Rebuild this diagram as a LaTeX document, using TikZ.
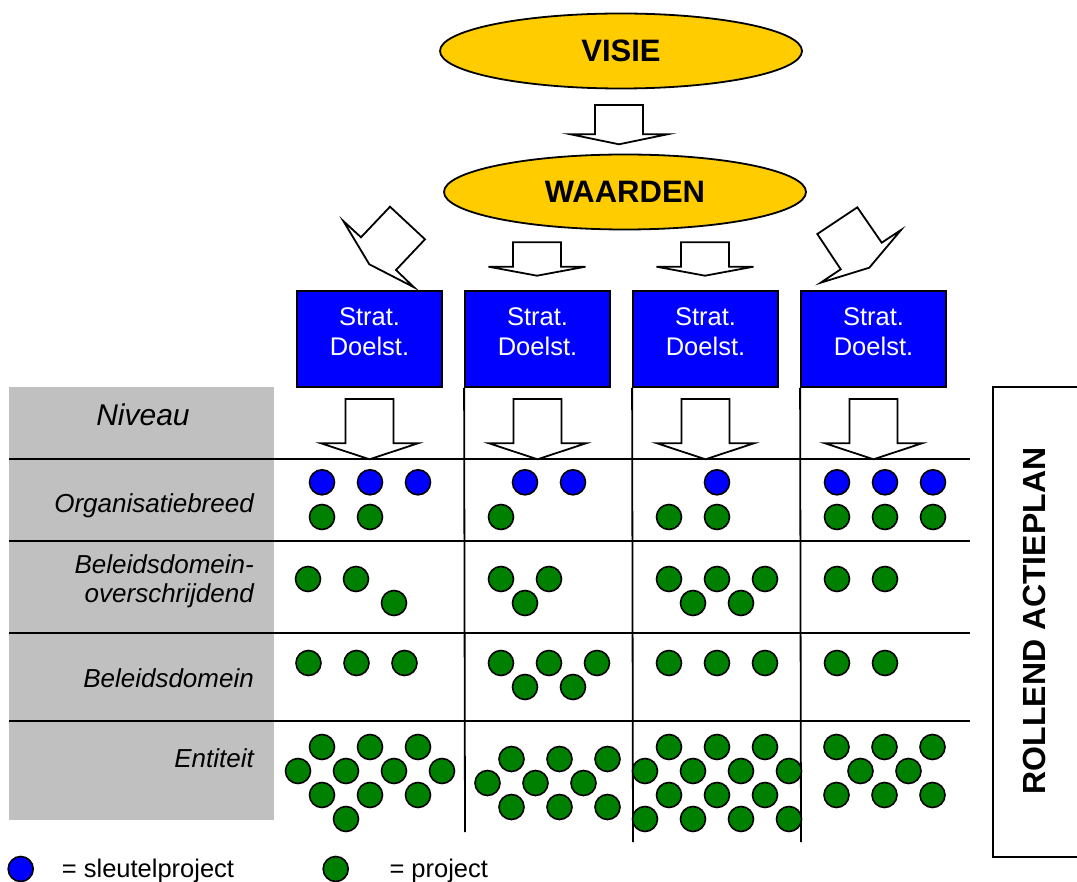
\documentclass[tikz,border=0pt]{standalone}
\usepackage{fontspec}
\setmainfont{Liberation Sans}
\usetikzlibrary{shapes.geometric}
\definecolor{visieyellow}{RGB}{255,204,0}
\definecolor{keyblue}{RGB}{0,0,255}
\definecolor{projgreen}{RGB}{0,128,0}
\definecolor{levelgray}{RGB}{192,192,192}
% block arrow pointing down: #1 centre x, #2 top y, #3 shoulder y, #4 tip y
\newcommand\blockdown[4]{%
  \draw[blockarrow] (#1-24,#2) -- (#1+24,#2) -- (#1+24,#3) -- (#1+48.5,#3)
    -- (#1,#4) -- (#1-48.5,#3) -- (#1-24,#3) -- cycle;}
\begin{document}
\begin{tikzpicture}[x=1pt,y=-1pt,
  oval/.style={ellipse,draw,line width=1.8pt,fill=visieyellow,minimum width=362pt,
    minimum height=75pt,inner sep=0pt,font=\fontsize{31}{36}\selectfont\bfseries},
  stratbox/.style={rectangle,draw,line width=1.8pt,fill=keyblue,minimum width=145pt,
    minimum height=96pt,inner sep=0pt},
  strattext/.style={text=white,align=center,inner sep=0pt,
    font=\fontsize{25.5}{30}\selectfont},
  blockarrow/.style={draw,fill=white,line width=1.8pt,line join=miter},
  gridline/.style={line width=1.8pt},
  rowlabel/.style={anchor=base east,inner sep=0pt,align=right,
    font=\fontsize{26}{29}\selectfont\itshape},
  keyproj/.style={circle,draw,line width=1.6pt,fill=keyblue,minimum size=25pt,inner sep=0pt},
  proj/.style={circle,draw,line width=1.6pt,fill=projgreen,minimum size=25pt,inner sep=0pt},
  legendtext/.style={anchor=base west,inner sep=0pt,font=\fontsize{25.5}{30}\selectfont}]
\useasboundingbox (0,0) rectangle (1077,882);

% top ellipses
\node[oval] (visie) at (621,51) {VISIE};
\node[oval] (waarden) at (625,192) {WAARDEN};
\blockdown{619}{105}{134.3}{144.3}

% arrows from WAARDEN
\draw[blockarrow] (343.3,221) -- (361,237.3) -- (390,206.7) -- (425,239.3)
  -- (396,270) -- (414,287.3) -- (369.3,264.3) -- cycle;
\blockdown{537}{242.3}{266.7}{275.7}
\blockdown{705}{242.3}{266.7}{275.7}
\draw[blockarrow] (817.3,234) -- (857.3,207.3) -- (881.7,242.7) -- (901,230)
  -- (869.3,267.7) -- (820.7,282.7) -- (840.7,269.3) -- cycle;

% strategic objectives
\foreach \i/\cx in {1/369.5,2/537.5,3/705.5,4/873.5}{
  \node[stratbox] (s\i) at (\cx,339) {};
  \node[strattext] (st\i) at ([yshift=7pt]s\i.center) {Strat.\\Doelst.};
}

% level column
\fill[levelgray] (9,387) rectangle (274,820);
\node[anchor=base,inner sep=0pt,font=\fontsize{30}{34}\selectfont\itshape] (niveau) at (143,425.7) {Niveau};
\node[rowlabel] (lorg) at (254,512.3) {Organisatiebreed};
\node[rowlabel] (lbdo) at (254,602.7) {Beleidsdomein-\\overschrijdend};
\node[rowlabel] (lbd) at (254,687.7) {Beleidsdomein};
\node[rowlabel] (lent) at (254,767.3) {Entiteit};

% grid lines
\foreach \y in {459.3,541,633.3,720.7}{
  \draw[gridline] (9,\y) -- (970,\y);
}
\draw[gridline] (s2.south west) -- (465,832);
\draw[gridline] (s3.south west) -- (633,842);
\draw[gridline] (s4.south west) -- (801,842);

% arrows from objectives to levels
\foreach \cx in {369.5,537.5,705.5,873.5}{
  \blockdown{\cx}{399}{443.3}{459.3}
}

% rolling action plan
\draw[line width=1.8pt] (993,387) rectangle (1079,857);
\node[rotate=90,inner sep=0pt,font=\fontsize{32}{36}\selectfont\bfseries] (rap) at (1034,621) {ROLLEND ACTIEPLAN};

% key projects
\foreach \x [count=\i] in {322,370,418,525,573,717,837,885,933}{
  \node[keyproj] (k\i) at (\x,482.3) {};
}
% projects
\foreach \px/\py [count=\i] in {
  322/517,370/517,501/517,669/517,717/517,837/517,885/517,933/517,
  308/579,356/579,394/603,501/579,549/579,525/603,669/579,717/579,765/579,693/603,741/603,837/579,885/579,
  308.5/663,356.5/663,404.5/663,501/663,549/663,597/663,525/687,573/687,669/663,717/663,765/663,837/663,885/663,
  322/747,370/747,418/747,298/771,346/771,394/771,442/771,322/795,370/795,418/795,346/819,
  511.5/759,559.5/759,607.5/759,487.5/783,535.5/783,583.5/783,511.5/807,559.5/807,607.5/807,
  669/747,717/747,765/747,645/771,693/771,741/771,789/771,669/795,717/795,765/795,645/819,693/819,741/819,789/819,
  836.5/747,884.5/747,932.5/747,860.5/771,908.5/771,836.5/795,884.5/795,932.5/795}{
  \node[proj] (p\i) at (\px,\py) {};
}

% legend
\node[keyproj] (legk) at (20.7,869) {};
\node[legendtext] (legkt) at (61.7,877.5) {= sleutelproject};
\node[proj] (legp) at (335.7,869) {};
\node[legendtext] (legpt) at (389.3,877.5) {= project};
\end{tikzpicture}
\end{document}
